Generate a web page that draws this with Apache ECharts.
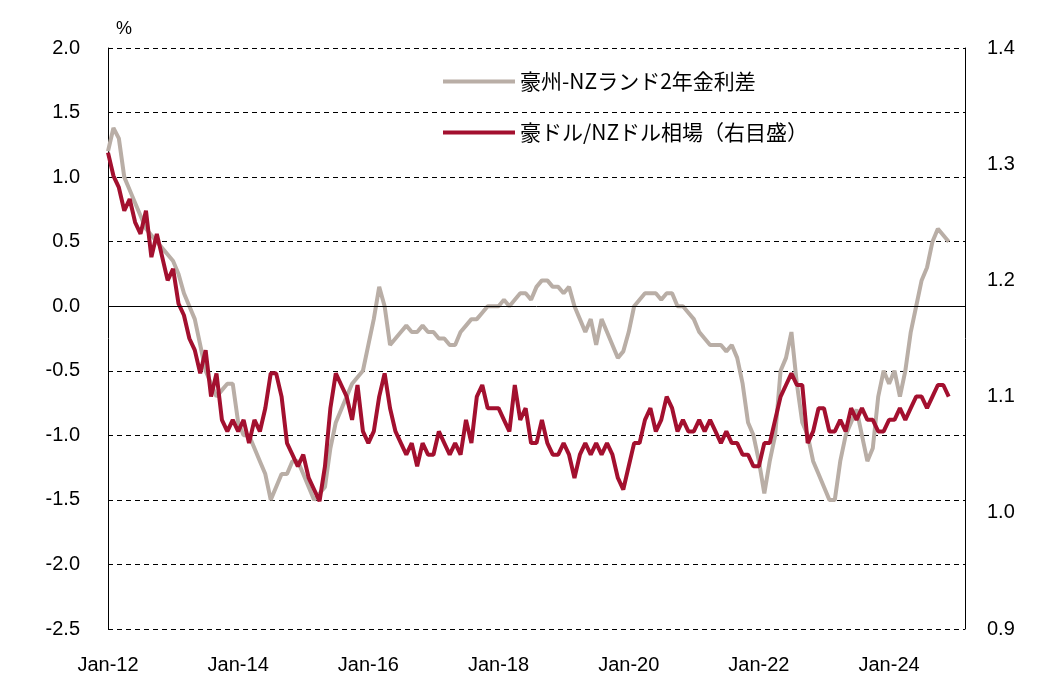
<!DOCTYPE html>
<html><head><meta charset="utf-8">
<script src="https://cdn.jsdelivr.net/npm/echarts@6/dist/echarts.min.js"></script>
<style>html,body{margin:0;padding:0;background:#fff}#c{width:1063px;height:698px}</style>
</head><body><div id="c"></div>
<script>
const spread = [
1.2,1.38,1.3,1.0,0.9,0.8,0.7,0.6,0.55,0.5,0.45,0.4,
0.35,0.25,0.1,0.0,-0.1,-0.3,-0.5,-0.6,-0.7,-0.65,-0.6,-0.6,
-0.9,-1.0,-1.0,-1.1,-1.2,-1.3,-1.5,-1.4,-1.3,-1.3,-1.2,-1.2,
-1.3,-1.4,-1.5,-1.45,-1.4,-1.1,-0.9,-0.8,-0.7,-0.6,-0.55,-0.5,
-0.3,-0.1,0.15,0.0,-0.3,-0.25,-0.2,-0.15,-0.2,-0.2,-0.15,-0.2,
-0.2,-0.25,-0.25,-0.3,-0.3,-0.2,-0.15,-0.1,-0.1,-0.05,0.0,0.0,
0.0,0.05,0.0,0.05,0.1,0.1,0.05,0.15,0.2,0.2,0.15,0.15,
0.1,0.15,0.0,-0.1,-0.2,-0.1,-0.3,-0.1,-0.2,-0.3,-0.4,-0.35,
-0.2,0.0,0.05,0.1,0.1,0.1,0.05,0.1,0.1,0.0,0.0,-0.05,
-0.1,-0.2,-0.25,-0.3,-0.3,-0.3,-0.35,-0.3,-0.4,-0.6,-0.9,-1.0,
-1.2,-1.45,-1.2,-1.0,-0.5,-0.4,-0.2,-0.6,-0.9,-1.0,-1.2,-1.3,
-1.4,-1.5,-1.5,-1.2,-1.0,-0.9,-0.8,-1.0,-1.2,-1.1,-0.7,-0.5,
-0.6,-0.5,-0.7,-0.5,-0.2,0.0,0.2,0.3,0.5,0.6,0.55,0.5
];
const audnzd = [
1.31,1.29,1.28,1.26,1.27,1.25,1.24,1.26,1.22,1.24,1.22,1.20,
1.21,1.18,1.17,1.15,1.14,1.12,1.14,1.10,1.12,1.08,1.07,1.08,
1.07,1.08,1.06,1.08,1.07,1.09,1.12,1.12,1.10,1.06,1.05,1.04,
1.05,1.03,1.02,1.01,1.04,1.09,1.12,1.11,1.10,1.08,1.11,1.07,
1.06,1.07,1.10,1.12,1.09,1.07,1.06,1.05,1.06,1.04,1.06,1.05,
1.05,1.07,1.06,1.05,1.06,1.05,1.08,1.06,1.10,1.11,1.09,1.09,
1.09,1.08,1.07,1.11,1.08,1.09,1.06,1.06,1.08,1.06,1.05,1.05,
1.06,1.05,1.03,1.05,1.06,1.05,1.06,1.05,1.06,1.05,1.03,1.02,
1.04,1.06,1.06,1.08,1.09,1.07,1.08,1.10,1.09,1.07,1.08,1.07,
1.07,1.08,1.07,1.08,1.07,1.06,1.07,1.06,1.06,1.05,1.05,1.04,
1.04,1.06,1.06,1.08,1.10,1.11,1.12,1.11,1.11,1.06,1.07,1.09,
1.09,1.07,1.07,1.08,1.07,1.09,1.08,1.09,1.08,1.08,1.07,1.07,
1.08,1.08,1.09,1.08,1.09,1.10,1.10,1.09,1.10,1.11,1.11,1.10
];
const categories = [];
for (let y = 12; y <= 25; y++) for (let m = 1; m <= 12; m++) {
  if (y === 25 && m > 3) break;
  categories.push((m === 1 ? 'Jan-' : 'M' + m + '-') + y);
}
const ch = echarts.init(document.getElementById('c'));
const font = 'Liberation Sans, Arial, sans-serif';
ch.setOption({
  animation: false,
  grid: {left: 108, right: 98, top: 48, bottom: 69},
  legend: {
    left: 438, top: 66, orient: 'vertical', itemGap: 30, itemWidth: 72, itemHeight: 4,
    textStyle: {fontSize: 21, color: '#000', fontFamily: 'Noto Sans CJK JP'},
    icon: 'rect',
    data: ['豪州-NZランド2年金利差', '豪ドル/NZドル相場（右目盛）']
  },
  xAxis: {
    type: 'category', data: categories, boundaryGap: false,
    axisLine: {show: false}, axisTick: {show: false},
    axisLabel: {fontSize: 20, color: '#000', fontFamily: font, margin: 26,
      interval: (i) => i % 24 === 0, formatter: v => v}
  },
  yAxis: [
    {type: 'value', min: -2.5, max: 2.0, interval: 0.5, name: '%', nameGap: 10,
     nameTextStyle: {fontSize: 18, color: '#000', align: 'left', padding: [0,0,0,8]},
     axisLine: {show: true, lineStyle: {color: '#000'}}, axisTick: {show: false},
     axisLabel: {fontSize: 20, color: '#000', fontFamily: font, margin: 28, formatter: v => v.toFixed(1)},
     splitLine: {lineStyle: {color: '#000', type: [5, 4], width: 1}}},
    {type: 'value', min: 0.9, max: 1.4, interval: 0.1,
     axisLine: {show: true, lineStyle: {color: '#000'}}, axisTick: {show: false},
     axisLabel: {fontSize: 20, color: '#000', fontFamily: font, margin: 22, formatter: v => v.toFixed(1)},
     splitLine: {show: false}}
  ],
  series: [
    {name: '豪州-NZランド2年金利差', type: 'line', data: spread, yAxisIndex: 0, showSymbol: false,
     lineStyle: {color: '#b9aea6', width: 4}, itemStyle: {color: '#b9aea6'},
     markLine: {silent: true, symbol: 'none', label: {show: false},
       lineStyle: {color: '#000', type: 'solid', width: 1}, data: [{yAxis: 0}]}},
    {name: '豪ドル/NZドル相場（右目盛）', type: 'line', data: audnzd, yAxisIndex: 1, showSymbol: false,
     lineStyle: {color: '#a3102f', width: 4}, itemStyle: {color: '#a3102f'}}
  ]
});
</script></body></html>
